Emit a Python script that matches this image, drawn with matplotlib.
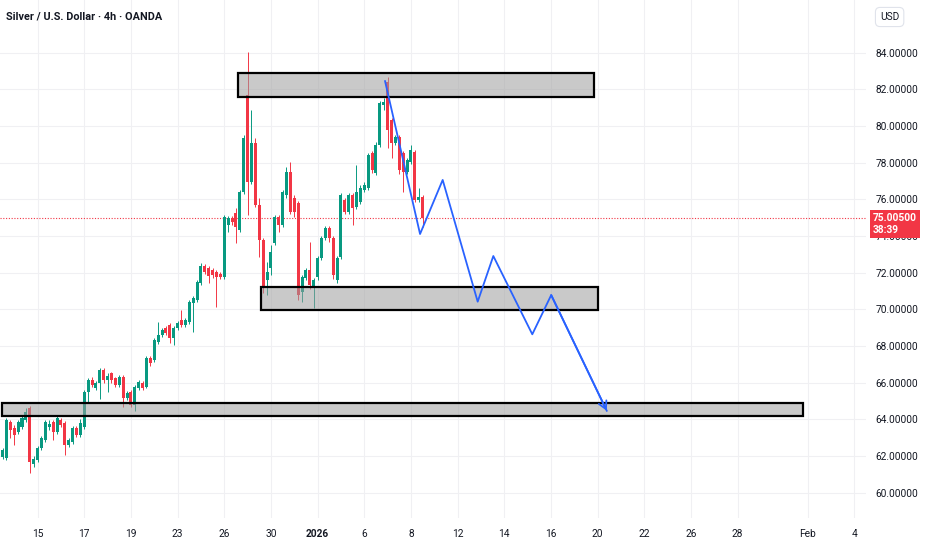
import numpy as np
import matplotlib
matplotlib.use('Agg')
import matplotlib.pyplot as plt
from matplotlib.patches import Rectangle

# 4h candles, first bar ~ Dec 12, last bar ~ Jan 8
opens = [61.94, 61.89, 63.85, 63.52, 63.30, 63.58, 63.96, 64.61, 61.56, 61.78,
         62.43, 62.87, 63.58, 63.85, 63.30, 63.96, 63.80, 62.59, 62.76, 63.52,
         63.14, 63.58, 65.49, 66.14, 65.70, 65.98, 66.69, 66.14, 66.52, 66.25,
         65.87, 66.30, 65.16, 65.49, 64.78, 65.71, 65.98, 65.76, 67.34, 67.23,
         68.22, 68.60, 68.98, 69.14, 68.44, 68.98, 69.42, 69.14, 69.31, 70.35,
         70.51, 71.44, 72.37, 72.26, 72.15, 72.04, 71.93, 71.77, 74.60, 74.98,
         75.25, 74.33, 76.40, 81.69, 76.94, 79.07, 75.69, 73.78, 71.60, 72.26,
         73.62, 75.03, 74.60, 76.23, 77.49, 76.07, 75.80, 70.95, 71.71, 72.15,
         71.22, 71.77, 72.80, 73.89, 74.44, 73.89, 71.60, 72.86, 75.96, 75.31,
         76.23, 75.58, 75.85, 76.51, 76.62, 78.53, 77.44, 78.96, 81.15, 82.40,
         80.33, 79.07, 79.40, 78.53, 77.49, 78.04, 78.58, 75.96, 76.12]
highs = [62.43, 64.07, 63.96, 63.69, 63.96, 64.20, 64.61, 64.72, 62.00, 62.54,
         63.10, 63.96, 63.96, 63.96, 64.18, 64.07, 63.90, 62.98, 63.63, 63.63,
         64.00, 65.60, 66.25, 66.30, 66.08, 66.80, 66.80, 66.52, 66.60, 66.30,
         66.40, 66.40, 65.55, 65.60, 65.87, 66.14, 66.08, 67.45, 67.45, 68.44,
         69.31, 69.00, 69.10, 69.25, 69.09, 69.36, 69.96, 69.53, 70.51, 70.73,
         71.60, 72.53, 72.48, 72.37, 72.26, 72.15, 72.04, 75.14, 75.09, 75.09,
         75.53, 76.51, 79.51, 84.04, 80.87, 79.35, 76.07, 73.89, 72.59, 73.51,
         75.14, 75.14, 76.51, 77.76, 78.04, 76.23, 75.91, 71.88, 72.26, 73.67,
         71.71, 72.91, 74.00, 74.55, 74.55, 74.00, 72.91, 76.34, 76.07, 76.34,
         76.34, 77.87, 76.80, 76.95, 78.53, 78.64, 79.13, 81.37, 81.53, 82.67,
         80.44, 79.51, 79.51, 78.64, 78.26, 78.96, 78.69, 76.62, 76.23]
lows = [61.83, 61.78, 62.98, 62.59, 63.20, 63.47, 63.85, 61.07, 61.40, 61.67,
        62.32, 62.76, 63.41, 62.87, 63.20, 63.58, 62.05, 62.48, 62.65, 63.03,
        63.03, 63.47, 64.94, 65.76, 65.60, 65.10, 65.98, 65.49, 66.00, 65.76,
        65.76, 64.67, 65.05, 64.67, 64.45, 65.60, 65.60, 65.70, 66.90, 67.12,
        68.11, 68.50, 68.60, 68.16, 68.06, 68.87, 69.03, 69.03, 69.20, 68.76,
        70.40, 71.33, 71.93, 71.44, 71.71, 70.13, 71.66, 71.66, 74.22, 74.60,
        73.62, 74.22, 76.29, 75.14, 76.84, 75.58, 72.86, 70.89, 70.78, 71.88,
        73.51, 74.22, 74.49, 76.07, 75.20, 75.03, 70.51, 70.40, 71.60, 71.11,
        70.07, 71.60, 72.69, 73.78, 73.67, 71.66, 71.44, 72.75, 75.20, 75.20,
        74.60, 75.47, 75.74, 76.40, 76.51, 77.44, 77.33, 78.85, 80.87, 78.80,
        78.26, 78.96, 77.38, 76.40, 77.38, 77.93, 75.85, 75.85, 74.49]
closes = [62.32, 63.96, 63.41, 63.14, 63.85, 64.07, 64.39, 61.67, 61.83, 62.43,
          62.98, 63.85, 63.74, 63.30, 64.07, 63.69, 62.59, 62.87, 63.52, 63.14,
          63.80, 65.49, 66.14, 65.87, 65.98, 66.69, 66.14, 66.36, 66.14, 65.87,
          66.30, 65.16, 65.44, 64.78, 65.76, 66.03, 65.71, 67.34, 67.07, 68.33,
          68.60, 68.87, 68.71, 68.44, 68.98, 69.25, 69.14, 69.42, 70.40, 70.62,
          71.49, 72.37, 72.04, 71.82, 71.88, 71.77, 71.77, 75.03, 74.98, 74.76,
          74.49, 76.40, 79.35, 76.94, 79.07, 75.69, 73.78, 71.16, 72.04, 73.13,
          75.03, 74.60, 76.40, 77.49, 75.31, 75.31, 70.78, 71.77, 72.15, 71.33,
          71.60, 72.80, 73.89, 74.44, 73.89, 71.88, 72.80, 76.23, 75.31, 76.23,
          75.52, 76.40, 76.62, 76.78, 78.42, 77.60, 78.96, 81.26, 81.31, 79.78,
          79.07, 79.40, 77.60, 77.49, 78.15, 78.69, 75.96, 76.12, 75.005]
first_bar_day = -1.50      # trading-day index of first bar (Dec 15 = 0)
bars_per_day = 6

tick_days = [0, 2, 4, 6, 8, 10, 12, 14, 16, 18, 20, 22, 24, 26, 28, 30, 33, 35]
tick_labels = ['15', '17', '19', '23', '26', '30', '2026', '6', '8', '12', '14',
               '16', '20', '22', '26', '28', 'Feb', '4']
price_ticks = list(range(60, 86, 2))
last_price = 75.005
countdown = '38:39'

# drawn zones (day range, price range)
zone_days = [(8.58, 23.85), (9.58, 24.02), (-1.53, 32.81)]
zone_prices = [(81.60, 82.88), (69.96, 71.23), (64.18, 64.89)]

# projected zigzag
path_days = [14.89, 16.39, 17.36, 18.86, 19.53, 21.20, 22.01, 24.39]
path_prices = [82.45, 74.11, 77.06, 70.42, 72.91, 68.64, 70.78, 64.47]

UP = '#089981'; DN = '#f23645'; TXT = '#131722'; GRID = '#f0f0f3'
FONT = ['Liberation Sans Narrow', 'Roboto', 'DejaVu Sans']
plt.rcParams['font.family'] = FONT

fig = plt.figure(figsize=(9.32, 5.5), dpi=100)
ax = fig.add_axes([0, 32 / 550, 866 / 932, 518 / 550])
ax.set_xlim(-1.61, 35.5); ax.set_ylim(58.62, 86.875)

O = np.array(opens); H = np.array(highs); L = np.array(lows); C = np.array(closes)
xs = first_bar_day + np.arange(len(O)) / bars_per_day
col = np.where(C >= O, UP, DN)
ax.vlines(xs, L, H, colors=col, lw=0.7, zorder=2)
body_lo = np.minimum(O, C); body_h = np.maximum(np.abs(C - O), 0.04)
ax.bar(xs, body_h, bottom=body_lo, width=0.13, color=col, lw=0, zorder=2)

# zones on top, semi-transparent like TV drawings
for (d0, d1), (p0, p1) in zip(zone_days, zone_prices):
    ax.add_patch(Rectangle((d0, p0), d1 - d0, p1 - p0, fc=(0.62, 0.62, 0.62, 0.55),
                           ec='black', lw=1.6, zorder=3))

ax.plot(path_days, path_prices, color='#2962ff', lw=1.3, zorder=4)
ax.annotate('', xy=(path_days[-1], path_prices[-1]), xytext=(path_days[-2], path_prices[-2]),
            arrowprops=dict(arrowstyle='->,head_length=0.55,head_width=0.3', color='#2962ff',
                            lw=1.3, shrinkA=0, shrinkB=0), zorder=4)

ax.axhline(last_price, color=DN, lw=0.8, ls=(0, (1, 1.5)), zorder=1)

ax.set_xticks(tick_days); ax.set_xticklabels(tick_labels)
ax.get_xticklabels()[tick_labels.index('2026')].set_fontweight('bold')
ax.set_yticks(price_ticks); ax.set_yticklabels([f'{p:.5f}' for p in price_ticks])
ax.yaxis.tick_right()
ax.tick_params(axis='both', length=0, labelsize=7.3, colors=TXT)
ax.tick_params(axis='x', pad=8)
ax.tick_params(axis='y', pad=7)
ax.grid(True, color=GRID, lw=0.8, zorder=0)
ax.set_axisbelow(True)
for s in ax.spines.values(): s.set_visible(False)

# last price tag on the scale: first line sits on the price, countdown below
ax.annotate(f'{last_price:.5f}\n{countdown}', xy=(1.008, last_price), xycoords=('axes fraction', 'data'),
            xytext=(0, -4.6), textcoords='offset points',
            ha='left', va='center', fontsize=7.3, color='white', fontweight='bold', linespacing=1.2,
            bbox=dict(boxstyle='square,pad=0.3', fc=DN, ec='none'), annotation_clip=False, zorder=10)

fig.text(6 / 932, 1 - 16 / 550, 'Silver / U.S. Dollar · 4h · OANDA', ha='left', va='center',
         fontsize=7.8, color=TXT, fontweight='bold')
fig.text(880 / 932, 1 - 17 / 550, 'USD', ha='left', va='center', fontsize=7.3, color=TXT,
         bbox=dict(boxstyle='round,pad=0.45', fc='white', ec='#e0e3eb', lw=0.8))

fig.savefig('out.png', dpi=100)
